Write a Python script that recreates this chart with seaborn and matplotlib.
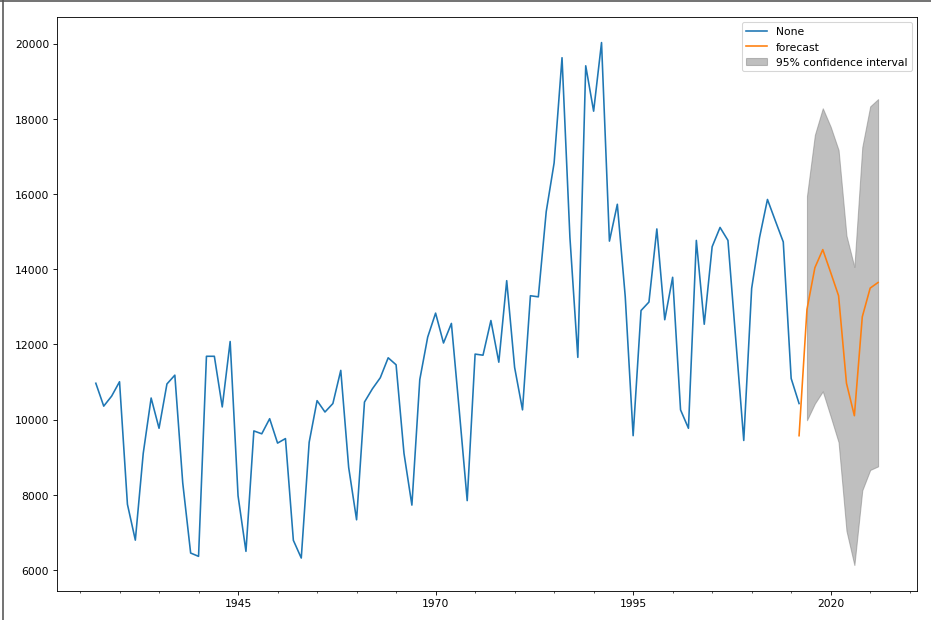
import numpy as np
import pandas as pd
import matplotlib
matplotlib.use("Agg")
import matplotlib.pyplot as plt
from matplotlib.ticker import MultipleLocator, FixedLocator
from matplotlib.lines import Line2D
import seaborn as sns

# observed series (yearly positions 1927..2016)
obs_years = list(range(1927, 2017))
obs_values = [
    10968, 10359, 10625, 11008, 7748, 6795, 9103, 10575, 9770, 10949,
    11183, 8316, 6452, 6364, 11685, 11685, 10338, 12078, 7974, 6497,
    9700, 9623, 10025, 9376, 9496, 6790, 6319, 9398, 10505, 10203,
    10428, 11310, 8728, 7336, 10468, 10819, 11114, 11645, 11459, 9103,
    7727, 11066, 12195, 12833, 12038, 12559, 10232, 7846, 11743, 11714,
    12636, 11528, 13696, 11390, 10260, 13295, 13266, 15531, 16828, 19626,
    14846, 11656, 19411, 18204, 20029, 14748, 15728, 13274, 9573, 12902,
    13127, 15072, 12657, 13786, 10260, 9770, 14767, 12537, 14599, 15112,
    14767, 12100, 9446, 13491, 14846, 15856, 15287, 14727, 11095, 10428,
]

# forecast
fc_years = list(range(2016, 2027))
fc_values = [9573, 12931, 14041, 14522, 13914, 13295, 10968, 10104, 12734, 13499, 13648]

# confidence interval
ci_years = list(range(2017, 2027))
ci_lower = [9985, 10428, 10752, 10083, 9398, 7041, 6133, 8120, 8662, 8757]
ci_upper = [15946, 17574, 18281, 17789, 17170, 14894, 14060, 17250, 18331, 18525]

tick_labels = ["1945", "1970", "1995", "2020"]

obs_df = pd.DataFrame({"year": obs_years, "value": obs_values})
fc_df = pd.DataFrame({"year": fc_years, "value": fc_values})

fig = plt.figure(figsize=(12, 8), dpi=77.6)
ax = fig.add_axes([56.7 / 931, 1 - 592 / 621, (917 - 56.7) / 931, (592 - 17.5) / 621])

sns.lineplot(data=obs_df, x="year", y="value", ax=ax, color="#1f77b4", lw=1.5, label="None")
sns.lineplot(data=fc_df, x="year", y="value", ax=ax, color="#ff7f0e", lw=1.5, label="forecast")
ax.fill_between(ci_years, ci_lower, ci_upper, color="gray", alpha=0.5, label="95% confidence interval")

ax.set_xlabel("")
ax.set_ylabel("")
ax.set_xlim(1922.05, 2030.95)
ax.set_ylim(5442, 20717)

ax.xaxis.set_major_locator(FixedLocator([int(t) for t in tick_labels]))
ax.set_xticklabels(tick_labels)
ax.xaxis.set_minor_locator(MultipleLocator(5))
ax.yaxis.set_major_locator(MultipleLocator(2000))
ax.tick_params(axis="both", labelsize=10)

ax.legend(loc="upper right")

# screenshot frame
fig.add_artist(Line2D([0, 1], [1 - 1.5 / 621, 1 - 1.5 / 621], color="#555555", lw=1.5))
fig.add_artist(Line2D([2.5 / 931, 2.5 / 931], [0, 1], color="#555555", lw=1.5))

fig.savefig("out.png", dpi=77.6)
